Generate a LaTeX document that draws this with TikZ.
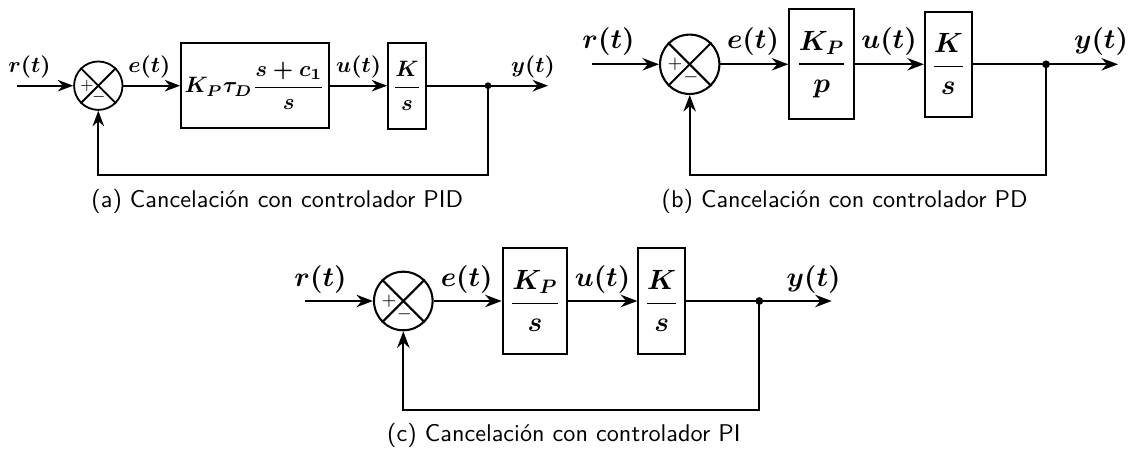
\RequirePackage{fix-cm}
\documentclass[tikz,border=0pt]{standalone}
\usepackage{amsmath}
\usetikzlibrary{arrows.meta}

\begin{document}
\begin{tikzpicture}[x=0.413pt,y=-0.413pt,>=Stealth,
  blk/.style={draw,rectangle,inner sep=0pt},
  sumnode/.style={draw,circle,inner sep=0pt},
  sigA/.style={font=\boldmath\fontsize{9.2}{11}\selectfont},
  sigB/.style={font=\boldmath\fontsize{11.5}{14}\selectfont},
  wireA/.style={line width=0.75pt},
  wireB/.style={line width=0.85pt},
  capt/.style={font=\sffamily,anchor=base}]
\useasboundingbox (0,0) rectangle (1131,451);

\node[sumnode,wireA,minimum size=20pt] (suma) at (98.3,85.7) {};
\draw[wireA] (suma.north west) -- (suma.south east) (suma.north east) -- (suma.south west);
\node[inner sep=0pt,font=\fontsize{6}{7}\selectfont] (suma+) at (87,85.7) {$+$};
\node[inner sep=0pt,font=\fontsize{6}{7}\selectfont] (suma-) at (98.8,96.5) {$-$};
\node[blk,wireA,sigA,minimum width=61.1pt,minimum height=35.1pt] (ctla) at (255,85.7) {$K_P\tau_D\dfrac{s+c_1}{s}$};
\node[blk,wireA,sigA,minimum width=15.7pt,minimum height=35.5pt] (plta) at (407,85.7) {$\dfrac{K}{s}$};
\coordinate (ina) at (17,85.7);
\coordinate (dota) at (488,85.7);
\coordinate (outa) at (548,85.7);
\coordinate (fba) at (488,175);
\draw[wireA,->] (ina) -- (suma);
\draw[wireA,->] (suma) -- (ctla);
\draw[wireA,->] (ctla) -- (plta);
\draw[wireA,->] (plta) -- (outa);
\draw[wireA,->] (dota) -- (fba) -| (suma.south);
\fill (dota) circle (1.4pt);
\node[sigA] (ra) at (29.5,67) {$r(t)$};
\node[sigA] (ea) at (149.3,67) {$e(t)$};
\node[sigA] (ua) at (358.7,67) {$u(t)$};
\node[sigA] (ya) at (533,67) {$y(t)$};
\node[capt] (capa) at (277.3,208) {(a) Cancelación con controlador PID};

\node[sumnode,wireB,minimum size=24.5pt] (sumb) at (689.7,64.3) {};
\draw[wireB] (sumb.north west) -- (sumb.south east) (sumb.north east) -- (sumb.south west);
\node[inner sep=0pt,font=\scriptsize] (sumb+) at (675,64.3) {$+$};
\node[inner sep=0pt,font=\scriptsize] (sumb-) at (691,77.5) {$-$};
\node[blk,wireB,sigB,minimum width=26.7pt,minimum height=45.4pt] (ctlb) at (821.7,64.3) {$\dfrac{K_P}{p}$};
\node[blk,wireB,sigB,minimum width=19.3pt,minimum height=43.4pt] (pltb) at (948.3,64.3) {$\dfrac{K}{s}$};
\coordinate (inb) at (592,64.3);
\coordinate (dotb) at (1046,64.3);
\coordinate (outb) at (1118,64.3);
\coordinate (fbb) at (1046,175);
\draw[wireB,->] (inb) -- (sumb);
\draw[wireB,->] (sumb) -- (ctlb);
\draw[wireB,->] (ctlb) -- (pltb);
\draw[wireB,->] (pltb) -- (outb);
\draw[wireB,->] (dotb) -- (fbb) -| (sumb.south);
\fill (dotb) circle (1.6pt);
\node[sigB] (rb) at (608.5,42) {$r(t)$};
\node[sigB] (eb) at (753,42) {$e(t)$};
\node[sigB] (ub) at (889,42) {$u(t)$};
\node[sigB] (yb) at (1101,42) {$y(t)$};
\node[capt] (capb) at (844.6,208) {(b) Cancelación con controlador PD};

\node[sumnode,wireB,minimum size=24.2pt] (sumc) at (403.3,301) {};
\draw[wireB] (sumc.north west) -- (sumc.south east) (sumc.north east) -- (sumc.south west);
\node[inner sep=0pt,font=\scriptsize] (sumc+) at (389,301) {$+$};
\node[inner sep=0pt,font=\scriptsize] (sumc-) at (404.5,314) {$-$};
\node[blk,wireB,sigB,minimum width=26.7pt,minimum height=43.7pt] (ctlc) at (535,301) {$\dfrac{K_P}{s}$};
\node[blk,wireB,sigB,minimum width=19.3pt,minimum height=43.7pt] (pltc) at (661.7,301) {$\dfrac{K}{s}$};
\coordinate (inc) at (305,301);
\coordinate (dotc) at (759.3,301);
\coordinate (outc) at (831.7,301);
\coordinate (fbc) at (759.3,410);
\draw[wireB,->] (inc) -- (sumc);
\draw[wireB,->] (sumc) -- (ctlc);
\draw[wireB,->] (ctlc) -- (pltc);
\draw[wireB,->] (pltc) -- (outc);
\draw[wireB,->] (dotc) -- (fbc) -| (sumc.south);
\fill (dotc) circle (1.6pt);
\node[sigB] (rc) at (320.5,280) {$r(t)$};
\node[sigB] (ec) at (466.7,280) {$e(t)$};
\node[sigB] (uc) at (602.5,280) {$u(t)$};
\node[sigB] (yc) at (813.7,280) {$y(t)$};
\node[capt] (capc) at (563.9,441.7) {(c) Cancelación con controlador PI};
\end{tikzpicture}
\end{document}
